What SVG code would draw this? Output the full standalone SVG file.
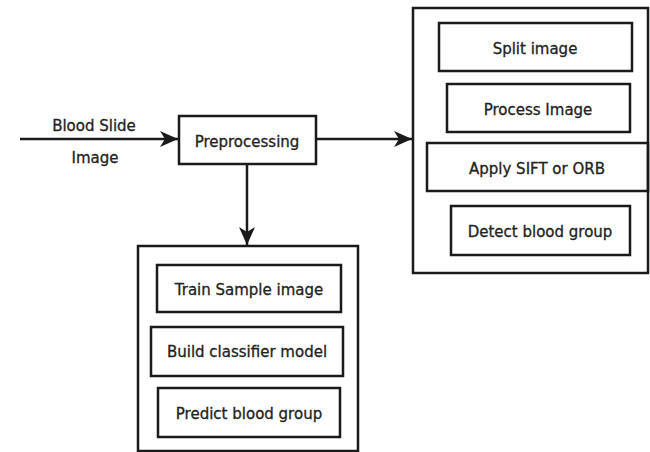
<svg xmlns="http://www.w3.org/2000/svg" width="650" height="452" viewBox="0 0 650 452">
<style>
.box{fill:none;stroke:#1a1a1a;stroke-width:2.5}
.ln{fill:none;stroke:#1a1a1a;stroke-width:2.5}
text{font-family:"DejaVu Sans","Verdana",sans-serif;font-size:15px;fill:#222;text-anchor:middle;stroke:#222;stroke-width:0.3}
</style>
<defs>
<marker id="ah" markerWidth="20" markerHeight="16" refX="18" refY="8" orient="auto" markerUnits="userSpaceOnUse">
<path d="M0,0 L18,8 L0,16 L5,8 Z" fill="#1a1a1a"/>
</marker>
</defs>
<rect width="650" height="452" fill="#fff"/>
<g id="connectors">
<line class="ln" x1="20" y1="139" x2="178" y2="139" marker-end="url(#ah)"/>
<line class="ln" x1="316" y1="139" x2="412" y2="139" marker-end="url(#ah)"/>
<line class="ln" x1="247" y1="164" x2="247" y2="245" marker-end="url(#ah)"/>
</g>
<g id="input-label">
<text x="94" y="131">Blood Slide</text>
<text x="95" y="163">Image</text>
</g>
<g id="preprocessing">
<rect class="box" x="179" y="116" width="137" height="48"/>
<text x="247" y="147">Preprocessing</text>
</g>
<g id="right-group">
<rect class="box" x="413" y="8" width="235" height="265"/>
</g>
<g id="split-image">
<rect class="box" x="439" y="23" width="193" height="48"/>
<text x="535" y="54">Split image</text>
</g>
<g id="process-image">
<rect class="box" x="447" y="84" width="183" height="48"/>
<text x="538" y="115">Process Image</text>
</g>
<g id="apply-sift">
<rect class="box" x="427" y="143" width="221" height="48"/>
<text x="537" y="174">Apply SIFT or ORB</text>
</g>
<g id="detect-blood-group">
<rect class="box" x="451" y="206" width="179" height="49"/>
<text x="540" y="237">Detect blood group</text>
</g>
<g id="bottom-group">
<rect class="box" x="138" y="246" width="220" height="205"/>
</g>
<g id="train-sample">
<rect class="box" x="157" y="265" width="184" height="47"/>
<text x="249" y="295">Train Sample image</text>
</g>
<g id="build-classifier">
<rect class="box" x="151" y="327" width="192" height="49"/>
<text x="247" y="357">Build classifier model</text>
</g>
<g id="predict-blood-group">
<rect class="box" x="158" y="388" width="182" height="49"/>
<text x="249" y="419">Predict blood group</text>
</g>
</svg>
